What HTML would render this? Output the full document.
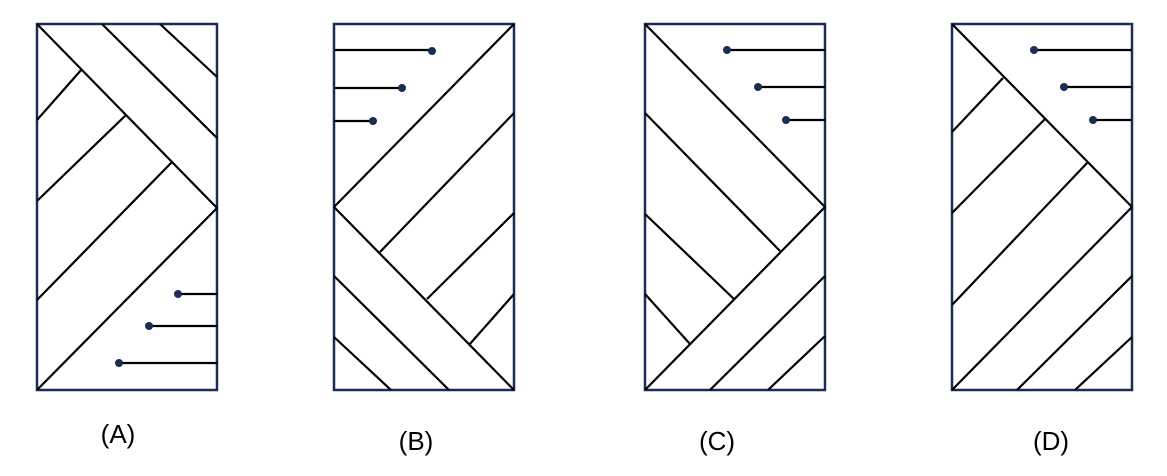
<!DOCTYPE html>
<html><head><style>body{margin:0;background:#fff}svg{display:block}</style></head><body>
<svg width="1167" height="476" xmlns="http://www.w3.org/2000/svg">
<g fill="none" stroke="#1b2d52" stroke-width="2.5">
<rect x="37" y="24" width="180" height="366"/>
<rect x="334" y="24" width="180" height="366"/>
<rect x="645" y="24" width="180" height="366"/>
<rect x="952" y="24" width="180" height="366"/>
</g>
<g stroke="#000" stroke-width="2.2">
<line x1="37" y1="24" x2="217" y2="208"/><line x1="102" y1="24" x2="217" y2="138"/><line x1="160" y1="24" x2="217" y2="77"/>
<line x1="82" y1="69" x2="37" y2="120"/><line x1="126" y1="115" x2="37" y2="201"/><line x1="172" y1="162" x2="37" y2="300"/>
<line x1="217" y1="208" x2="37" y2="390"/>
<line x1="178" y1="294" x2="217" y2="294"/><line x1="149" y1="326" x2="217" y2="326"/><line x1="119" y1="363" x2="217" y2="363"/>

<line x1="514" y1="24" x2="334" y2="207"/><line x1="514" y1="113" x2="380" y2="252"/><line x1="514" y1="213" x2="427" y2="299"/>
<line x1="514" y1="294" x2="469" y2="345"/><line x1="334" y1="207" x2="514" y2="390"/><line x1="334" y1="276" x2="449" y2="390"/>
<line x1="334" y1="337" x2="391" y2="390"/>
<line x1="334" y1="50" x2="432" y2="50"/><line x1="334" y1="88" x2="402" y2="88"/><line x1="334" y1="121" x2="373" y2="121"/>

<line x1="645" y1="24" x2="825" y2="207"/><line x1="645" y1="113" x2="780" y2="251"/><line x1="645" y1="214" x2="734" y2="299"/>
<line x1="645" y1="294" x2="690" y2="344"/><line x1="825" y1="207" x2="645" y2="390"/><line x1="825" y1="276" x2="710" y2="390"/>
<line x1="825" y1="336" x2="768" y2="390"/>
<line x1="727" y1="50" x2="825" y2="50"/><line x1="758" y1="87" x2="825" y2="87"/><line x1="786" y1="120" x2="825" y2="120"/>

<line x1="952" y1="24" x2="1132" y2="207"/><line x1="1003" y1="78" x2="952" y2="132"/><line x1="1045" y1="119" x2="952" y2="213"/>
<line x1="1088" y1="162" x2="952" y2="305"/><line x1="1132" y1="207" x2="952" y2="390"/><line x1="1132" y1="276" x2="1017" y2="390"/>
<line x1="1132" y1="337" x2="1075" y2="390"/>
<line x1="1034" y1="50" x2="1132" y2="50"/><line x1="1064" y1="87" x2="1132" y2="87"/><line x1="1093" y1="120" x2="1132" y2="120"/>
</g>
<g fill="#1b2d52">
<circle cx="178" cy="294" r="4"/><circle cx="149" cy="326" r="4"/><circle cx="119" cy="363" r="4"/>
<circle cx="432" cy="51" r="4"/><circle cx="402" cy="88" r="4"/><circle cx="373" cy="121" r="4"/>
<circle cx="727" cy="50" r="4"/><circle cx="758" cy="87" r="4"/><circle cx="786" cy="120" r="4"/>
<circle cx="1034" cy="50" r="4"/><circle cx="1064" cy="87" r="4"/><circle cx="1093" cy="120" r="4"/>
</g>
<g font-family="Liberation Sans, sans-serif" font-size="26" fill="#000" text-anchor="middle">
<text x="118" y="443">(A)</text>
<text x="416" y="450">(B)</text>
<text x="717" y="450">(C)</text>
<text x="1051" y="450">(D)</text>
</g>
</svg>
</body></html>
